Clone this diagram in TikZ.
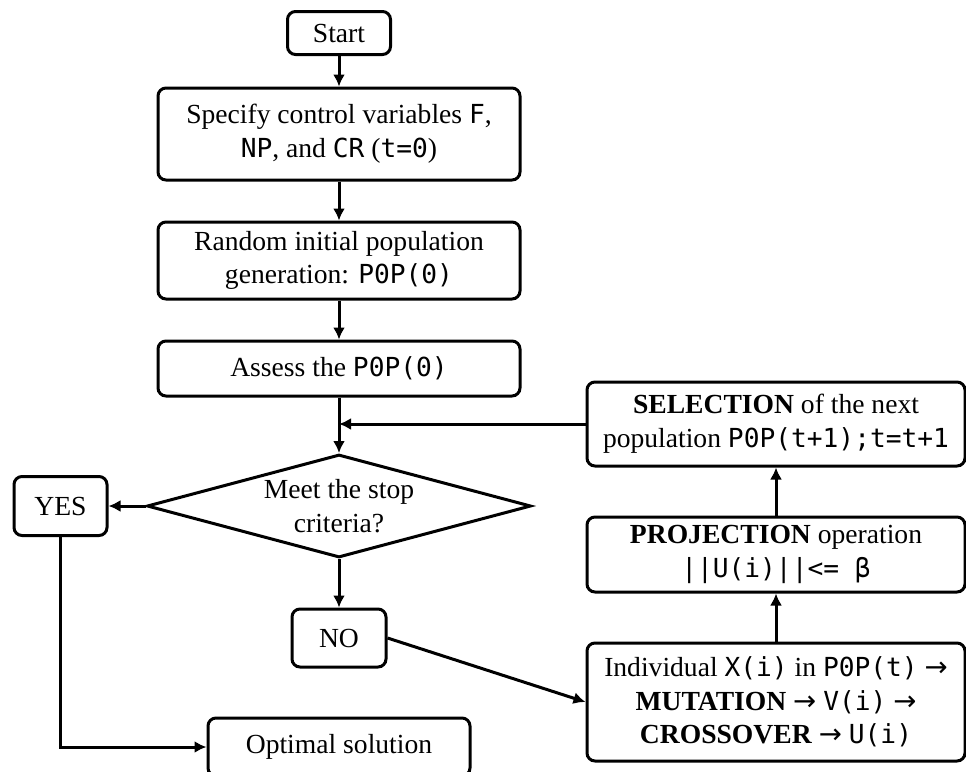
\documentclass[tikz,border=0pt]{standalone}
\usepackage{fontspec}
\setmainfont{Liberation Serif}
\newfontfamily\codefont{DejaVu Sans Mono}[Scale=0.95]
\newfontfamily\arrowfont{DejaVu Sans}
\usetikzlibrary{shapes.geometric,arrows.meta}
\newcommand{\cd}[1]{{\codefont #1}}
\newcommand{\ra}{{\arrowfont →}}

\begin{document}
\begin{tikzpicture}[x=0.5pt,y=-0.5pt]
	\tikzset{>={Latex[length=6pt,width=6pt]}}
	\tikzset{box/.style={draw,line width=1.5pt,rounded corners=4pt,align=center,inner sep=0pt,font=\fontsize{13.8}{16.8}\selectfont}}
	\tikzset{flow/.style={->,line width=1.5pt}}
	\useasboundingbox (0,0) rectangle (966,772);
	\clip (0,0) rectangle (966,772);
	\node[box,minimum width=51.5pt,minimum height=21.5pt] (start) at (339,33) {Start};
	\node[box,minimum width=181pt,minimum height=46pt] (spec) at (339,134) {Specify control variables \cd{F},\\\cd{NP}, and \cd{CR} (\cd{t=0})};
	\node[box,minimum width=181pt,minimum height=38.5pt] (rand) at (339,260.5) {Random initial population\\generation: \cd{P0P(0)}};
	\node[box,minimum width=181pt,minimum height=27.5pt] (assess) at (339,368.5) {Assess the \cd{P0P(0)}};
	\coordinate (join) at (339,424);
	\node[box,rounded corners=0pt,diamond,shape aspect=3.7,minimum width=192pt,minimum height=51.5pt] (decide) at (339,506) {Meet the stop\\criteria?};
	\node[box,minimum width=46.5pt,minimum height=29.5pt] (yes) at (60.5,506) {YES};
	\node[box,minimum width=47pt,minimum height=29pt] (no) at (339,638) {NO};
	\node[box,minimum width=131pt,minimum height=29pt] (opt) at (339,747) {Optimal solution};
	\node[box,minimum width=189pt,minimum height=59pt] (indiv) at (776,702) {Individual \cd{X(i)} in \cd{P0P(t)} \ra\\\textbf{MUTATION} \ra\ \cd{V(i)} \ra\\\textbf{CROSSOVER} \ra\ \cd{U(i)}};
	\node[box,minimum width=189pt,minimum height=37.5pt] (proj) at (776,554.5) {\textbf{PROJECTION} operation\\\cd{||U(i)||<= β}};
	\node[box,minimum width=189pt,minimum height=42pt] (sel) at (776,424) {\textbf{SELECTION} of the next\\population \cd{P0P(t+1);t=t+1}};
	\draw[flow] (start) -- (spec);
	\draw[flow] (spec) -- (rand);
	\draw[flow] (rand) -- (assess);
	\draw[flow] (assess) -- (decide);
	\draw[flow] (sel.west) -- (join);
	\draw[flow] (decide.west) -- (yes.east);
	\draw[flow] (decide) -- (no);
	\draw[flow] (yes.south) |- (opt.west);
	\draw[flow] (no.east) -- (indiv.west);
	\draw[flow] (indiv) -- (proj);
	\draw[flow] (proj) -- (sel);
\end{tikzpicture}
\end{document}
